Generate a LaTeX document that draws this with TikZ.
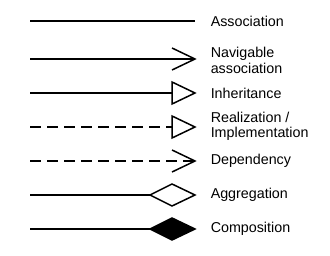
\documentclass[tikz,border=0pt]{standalone}
\usepackage{fontspec}
\setmainfont{Liberation Sans}
\begin{document}
\begin{tikzpicture}[x=1pt,y=-1pt,line width=1.5pt,
  lbl/.style={anchor=west,inner sep=0pt,align=left,font=\fontsize{14.3}{15.5}\selectfont},
  dsh/.style={dash pattern=on 10.5pt off 6.5pt},
  head/.style={line join=miter,fill=white},
  solidhead/.style={line join=miter,fill=black}]
\useasboundingbox (0,0) rectangle (330,255);
% Association
\coordinate (a1) at (30,21); \coordinate (b1) at (195,21);
\draw (a1) -- (b1);
\node[lbl] (t1) at (210,21) {Association};
% Navigable association
\coordinate (a2) at (30,59); \coordinate (b2) at (195,59);
\draw (a2) -- (b2);
\draw[line join=miter] (172,48) -- (b2) -- (172,70);
\node[lbl] (t2) at (210,60.5) {Navigable\\association};
% Inheritance
\coordinate (a3) at (30,93); \coordinate (c3) at (172,93); \coordinate (b3) at (195,93);
\draw (a3) -- (c3);
\draw[head] (172,82) -- (b3) -- (172,104) -- cycle;
\node[lbl] (t3) at (210,93) {Inheritance};
% Realization
\coordinate (a4) at (30,127); \coordinate (c4) at (172,127); \coordinate (b4) at (195,127);
\draw[dsh] (a4) -- (c4);
\draw[head] (172,116) -- (b4) -- (172,138) -- cycle;
\node[lbl] (t4) at (210,126.5) {Realization /\\Implementation};
% Dependency
\coordinate (a5) at (30,161); \coordinate (b5) at (195,161);
\draw[dsh] (a5) -- (b5);
\draw[line join=miter] (172,150) -- (b5) -- (172,172);
\node[lbl] (t5) at (210,161) {Dependency};
% Aggregation
\coordinate (a6) at (30,195); \coordinate (c6) at (150,195); \coordinate (b6) at (195,195);
\draw (a6) -- (c6);
\draw[head] (c6) -- (172,184) -- (b6) -- (172,206) -- cycle;
\node[lbl] (t6) at (210,195) {Aggregation};
% Composition
\coordinate (a7) at (30,229); \coordinate (c7) at (150,229); \coordinate (b7) at (195,229);
\draw (a7) -- (c7);
\draw[solidhead] (c7) -- (172,218) -- (b7) -- (172,240) -- cycle;
\node[lbl] (t7) at (210,229) {Composition};
\end{tikzpicture}
\end{document}
